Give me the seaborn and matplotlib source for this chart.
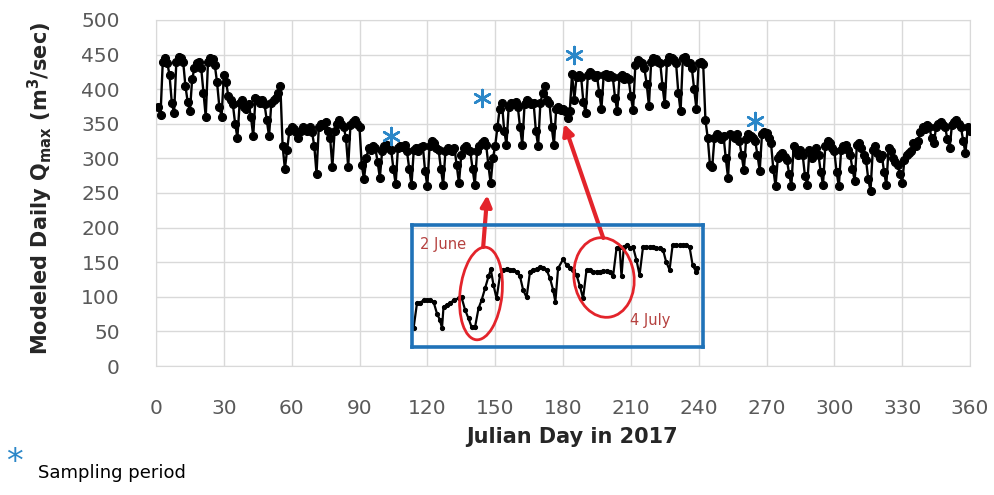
import numpy as np
import pandas as pd
import seaborn as sns
import matplotlib.pyplot as plt
from matplotlib.patches import Ellipse
from matplotlib.transforms import IdentityTransform

sns.set_style("white")
plt.rcParams['font.family'] = ['DejaVu Sans']
plt.rcParams['mathtext.fontset'] = 'dejavusans'

# ---------------- data ----------------
days = list(range(1, 361))
q_max = [
    375,
    363, 440, 445, 438, 420, 380, 365,
    440, 446, 445, 440, 405, 382, 368,
    415, 430, 438, 440, 430, 395, 360,
    440, 445, 443, 435, 410, 375, 360,
    420, 410, 390, 385, 378, 350, 330,
    380, 385, 375, 372, 378, 360, 332,
    388, 385, 380, 385, 378, 355, 332,
    380, 385, 388, 395, 405, 318, 285,
    312, 340, 345, 342, 338, 330, 340,
    345, 342, 340, 345, 338, 318, 278,
    345, 350, 348, 352, 340, 330, 288,
    340, 350, 355, 350, 345, 330, 288,
    348, 352, 355, 350, 345, 290, 270,
    300, 315, 312, 318, 315, 295, 272,
    310, 318, 320, 315, 312, 285, 263,
    315, 318, 316, 320, 310, 285, 262,
    312, 315, 310, 316, 318, 282, 260,
    318, 325, 322, 315, 312, 285, 262,
    310, 315, 312, 310, 315, 290, 264,
    305, 315, 318, 312, 310, 285, 262,
    310, 318, 322, 325, 320, 290, 264,
    300, 318, 345, 372, 380, 340, 320,
    375, 380, 378, 382, 375, 345, 320,
    378, 385, 382, 378, 380, 340, 318,
    380, 395, 405, 385, 380, 345, 320,
    372, 375, 370, 372, 368, 358, 368,
    422, 385, 418, 420, 418, 382, 365,
    420, 425, 422, 418, 420, 395, 372,
    420, 422, 418, 420, 418, 388, 368,
    418, 420, 415, 418, 415, 390, 370,
    435, 442, 440, 438, 430, 408, 376,
    440, 445, 443, 440, 438, 405, 378,
    440, 446, 445, 442, 438, 395, 368,
    445, 446, 440, 438, 430, 400, 372,
    438, 440, 436, 355, 330, 290, 288,
    330, 335, 332, 328, 332, 300, 272,
    335, 332, 330, 335, 325, 305, 283,
    328, 335, 332, 330, 325, 305, 282,
    335, 338, 336, 330, 322, 285, 260,
    300, 305, 308, 302, 298, 278, 260,
    318, 310, 305, 312, 305, 275, 262,
    312, 300, 308, 315, 305, 280, 262,
    318, 325, 322, 315, 310, 280, 260,
    312, 318, 320, 312, 305, 285, 268,
    320, 322, 315, 305, 298, 270, 253,
    312, 318, 308, 300, 305, 280, 262,
    315, 310, 300, 295, 290, 278, 265,
    298, 305, 308, 310, 322, 318, 325,
    338, 345, 342, 348, 345, 330, 322,
    345, 350, 352, 348, 345, 328, 315,
    348, 352, 355, 350, 345, 325, 308,
    345, 340,
]

sample_days = [104, 144, 185, 265]
sample_q = [332, 387, 449, 354]

inset_day = [135.7, 136.6, 137.4, 138.3, 139.2, 140.0, 140.9, 141.8, 142.6, 143.1,
             143.5, 144.4, 145.2, 146.1, 147.4, 148.2, 149.1, 150.0, 150.8, 151.7,
             152.6, 153.4, 154.3, 155.2, 155.8, 156.5, 157.3, 158.2, 159.1, 159.9,
             160.8, 161.7, 162.5, 163.4, 164.2, 165.1, 166.0, 166.8, 167.7, 168.6,
             169.4, 170.3, 171.2, 172.0, 172.6, 173.3, 174.6, 175.5, 176.4, 177.2,
             178.1, 179.0, 179.8, 180.7, 181.5, 182.4, 183.3, 184.1, 185.0, 185.9,
             186.7, 187.6, 188.5, 189.3, 189.8, 190.4, 191.1, 192.0, 192.8, 193.7,
             194.5, 195.4, 196.3, 197.1, 198.0, 198.8, 199.7, 200.6, 201.4, 202.3,
             203.1, 204.0, 204.9, 205.7, 206.6, 207.5, 208.3, 209.2, 209.5]
inset_q = [265, 318, 319, 324, 324, 324, 321, 296, 282, 265,
           310, 314, 318, 324, 328, 330, 304, 286, 268, 268,
           307, 324, 349, 374, 389, 356, 328, 377, 388, 389,
           388, 388, 384, 374, 346, 330, 384, 388, 389, 393,
           391, 388, 370, 346, 321, 391, 410, 398, 391, 388,
           377, 353, 328, 388, 388, 384, 384, 384, 385, 386,
           384, 374, 433, 436, 374, 436, 440, 433, 436, 408,
           377, 436, 436, 436, 436, 433, 433, 430, 405, 388,
           440, 440, 440, 440, 440, 436, 398, 384, 391]

x_ticks = list(range(0, 361, 30))
y_ticks = list(range(0, 501, 50))

BLUE = '#2B87C8'
RED = '#E3242B'
DARKRED = '#B5413F'
GRID = '#D9D9D9'
TICK = '#595959'

# ---------------- figure ----------------
fig = plt.figure(figsize=(9.94, 4.95), dpi=100)
W, H = 994, 495
ax = fig.add_axes([156 / W, 1 - 366 / H, 814 / W, 346 / H])

df = pd.DataFrame({'day': days, 'q': q_max})
sns.lineplot(data=df, x='day', y='q', ax=ax, color='black', lw=1.7,
             marker='o', markersize=5.8, markeredgecolor='black', zorder=3)

sns.scatterplot(x=sample_days, y=sample_q, ax=ax, marker=(6, 2, 0), s=150,
                color=BLUE, edgecolor=BLUE, linewidth=1.8, zorder=4)

ax.set_xlim(0, 360)
ax.set_ylim(0, 500)
ax.set_xticks(x_ticks)
ax.set_yticks(y_ticks)
ax.grid(True, color=GRID, lw=1)
ax.set_axisbelow(True)
for s in ax.spines.values():
    s.set_color(GRID)
ax.tick_params(axis='both', length=0, colors=TICK, labelsize=14.5)
ax.tick_params(axis='x', pad=24)
ax.tick_params(axis='y', pad=26)
ax.set_xlabel('')
ax.set_ylabel('')

# red arrows to the inset
ax.annotate('', xy=(146.5, 247), xytext=(144.7, 172),
            arrowprops=dict(arrowstyle='-|>', color=RED, lw=3,
                            mutation_scale=16, shrinkA=0, shrinkB=0), zorder=6)
ax.annotate('', xy=(180.5, 350), xytext=(197.8, 185),
            arrowprops=dict(arrowstyle='-|>', color=RED, lw=3,
                            mutation_scale=16, shrinkA=0, shrinkB=0), zorder=6)

# inset
axi = fig.add_axes([412 / W, 1 - 347 / H, 291 / W, 122 / H])
axi.patch.set_alpha(0)
sns.lineplot(x=inset_day, y=inset_q, ax=axi, color='black', lw=1.6,
             marker='o', markersize=3, markeredgecolor='black')
axi.set_xlim(135.3, 211)
axi.set_ylim(226, 482)
axi.set_xticks([])
axi.set_yticks([])
axi.set_xlabel('')
axi.set_ylabel('')
for s in axi.spines.values():
    s.set_color('#1F72B8')
    s.set_linewidth(2.6)

# ellipses (pixel coordinates)
fig.add_artist(Ellipse((481, H - 293.5), 42, 93, angle=-6, fill=False,
                       ec=RED, lw=2, transform=IdentityTransform()))
fig.add_artist(Ellipse((604, H - 277.5), 60, 80, angle=8, fill=False,
                       ec=RED, lw=2, transform=IdentityTransform()))

fig.text(420 / W, 1 - 244 / H, '2 June', color=DARKRED, fontsize=10.5,
         ha='left', va='center')
fig.text(630 / W, 1 - 321 / H, '4 July', color=DARKRED, fontsize=10.5,
         ha='left', va='center')

# axis titles
fig.text(40 / W, 1 - 188 / H, r'Modeled Daily Q$_{\mathbf{max}}$ (m$^{\mathbf{3}}$/sec)',
         rotation=90, ha='center', va='center', fontsize=15, fontweight='bold')
fig.text(572 / W, 1 - 437 / H, 'Julian Day in 2017', ha='center', va='center',
         fontsize=15, fontweight='bold')

# legend note
fig.text(14 / W, 1 - 446 / H, '*', color=BLUE, fontsize=24, ha='center', va='top')
fig.text(38 / W, 1 - 473 / H, 'Sampling period', fontsize=13, ha='left',
         va='center', color='black')

fig.savefig('out.png', dpi=100)
